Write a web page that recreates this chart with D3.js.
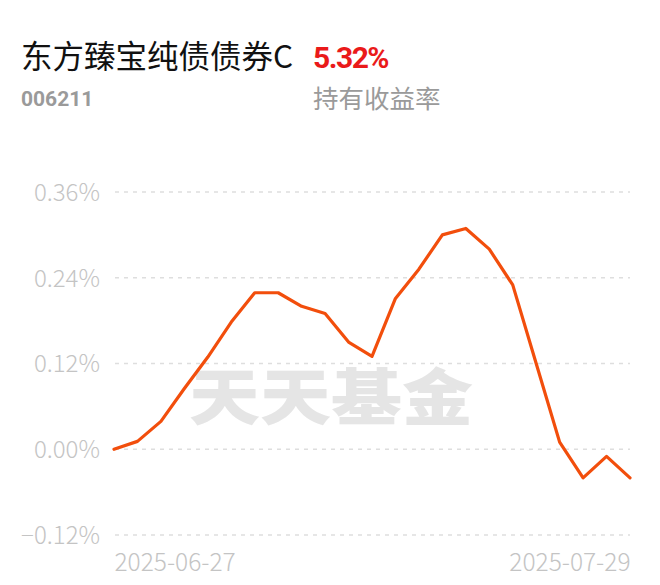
<!DOCTYPE html>
<html><head><meta charset="utf-8">
<script src="https://cdn.jsdelivr.net/npm/d3@7"></script>
<style>
html,body{margin:0;padding:0;background:#fff;}
svg{display:block;}
</style></head>
<body>
<svg id="c" width="660" height="585"></svg>
<script>
const dates = ["2025-06-27","2025-06-30","2025-07-01","2025-07-02","2025-07-03","2025-07-04","2025-07-07","2025-07-08","2025-07-09","2025-07-10","2025-07-11","2025-07-14","2025-07-15","2025-07-16","2025-07-17","2025-07-18","2025-07-21","2025-07-22","2025-07-23","2025-07-24","2025-07-25","2025-07-28","2025-07-29"];
const values = [0.000,0.011,0.039,0.085,0.129,0.178,0.219,0.219,0.200,0.190,0.150,0.130,0.211,0.252,0.300,0.309,0.280,0.230,0.120,0.010,-0.040,-0.010,-0.040];
const yTicks = [-0.12,0.00,0.12,0.24,0.36];
const xLabels = ["2025-06-27","2025-07-29"];
const fundName = "东方臻宝纯债债券C";
const fundCode = "006211";
const holdReturn = "5.32%";
const holdLabel = "持有收益率";
const watermark = "天天基金";

const svg = d3.select("#c");
const cjk = "'Noto Sans CJK SC','Noto Sans',sans-serif";
const num = "Roboto,'Noto Sans',sans-serif";

// header
svg.append("text").attr("x",21).attr("y",68).attr("font-family",cjk).attr("font-size",31.5)
  .attr("fill","#111").text(fundName);
svg.append("text").attr("x",313).attr("y",68).attr("font-family",num).attr("font-size",30)
  .attr("font-weight","bold").attr("fill","#ea1a1a").attr("letter-spacing",-1.5).text(holdReturn);
svg.append("text").attr("x",21).attr("y",106).attr("font-family",num).attr("font-size",21)
  .attr("font-weight","bold").attr("fill","#9a9a9a").text(fundCode);
svg.append("text").attr("x",313).attr("y",108).attr("font-family",cjk).attr("font-size",25.5)
  .attr("fill","#9a9a9a").text(holdLabel);

const x = d3.scalePoint().domain(dates).range([114,630]);
const y = d3.scaleLinear().domain([-0.12,0.36]).range([535,192]);

// watermark
svg.append("text").attr("transform","translate(189,420) scale(1,0.87)")
  .attr("font-family",cjk).attr("font-size",71).attr("font-weight",900)
  .attr("fill","#e5e5e5").text(watermark);

// grid
svg.append("g").selectAll("line").data(yTicks).join("line")
  .attr("x1",115).attr("x2",630)
  .attr("y1",d=>y(d)).attr("y2",d=>y(d))
  .attr("stroke","#dedede").attr("stroke-width",1.5).attr("stroke-dasharray","4,5");

// y axis labels
const yAxis = d3.axisLeft(y).tickValues(yTicks).tickSize(0).tickPadding(0)
  .tickFormat(d=>d3.format(".2f")(d)+"%");
const ga = svg.append("g").attr("transform","translate(100,0)").call(yAxis);
ga.select(".domain").remove();
ga.selectAll("text").attr("font-family",cjk).attr("font-weight",300).attr("font-size",24).attr("fill","#c4c4c4")
  .attr("dy","0.35em");

// x labels
const xAxis = d3.axisBottom(x).tickValues(xLabels).tickSize(0).tickPadding(0);
const gx = svg.append("g").attr("transform","translate(0,551)").call(xAxis);
gx.select(".domain").remove();
gx.selectAll("text").attr("font-family",cjk).attr("font-weight",300).attr("font-size",24.5).attr("fill","#c4c4c4")
  .attr("dy","0.8em")
  .attr("text-anchor",(d,i)=> i===0 ? "start" : "end");

// line
const line = d3.line().x((d,i)=>x(dates[i])).y(d=>y(d));
svg.append("path").datum(values).attr("d",line).attr("fill","none")
  .attr("stroke","#f24e0c").attr("stroke-width",3.2).attr("stroke-linejoin","round").attr("stroke-linecap","round");
</script>
</body></html>
